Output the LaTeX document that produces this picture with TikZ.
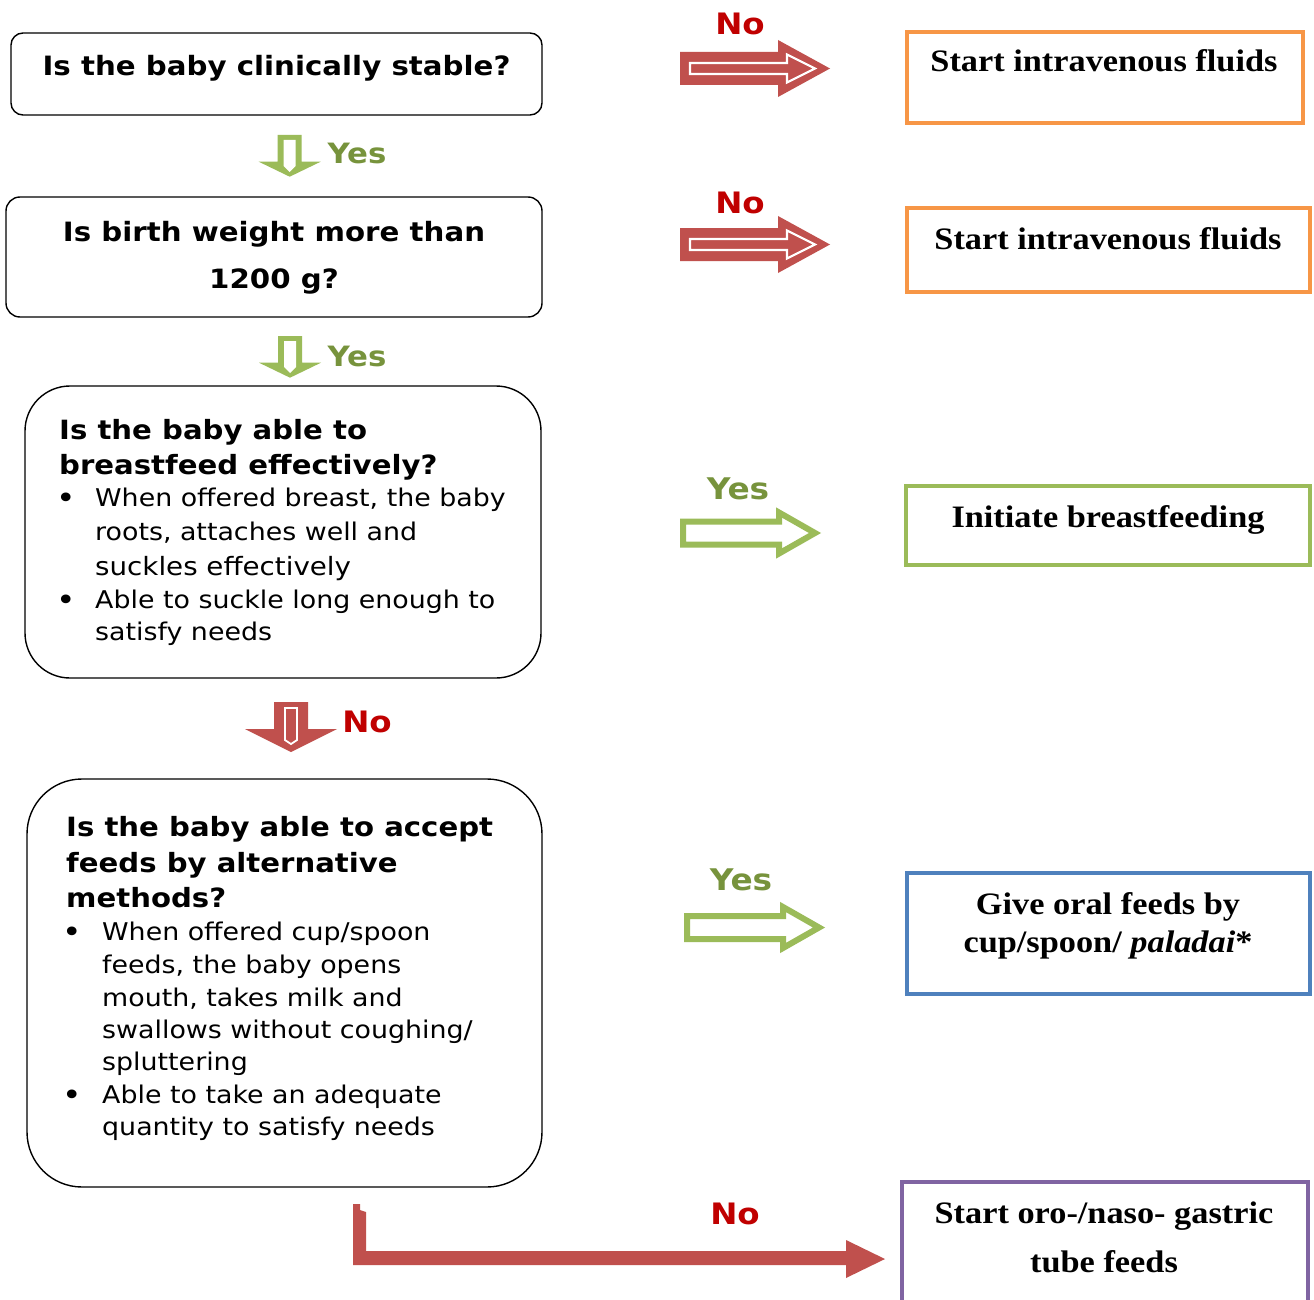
\documentclass[tikz,border=0pt]{standalone}
\usepackage{fontspec}
\setmainfont{DejaVu Sans}[FakeStretch=1.1]
\newfontfamily\cambria{Liberation Serif}[FakeStretch=1.1]
\definecolor{redA}{HTML}{C0504D}
\definecolor{redT}{HTML}{C00000}
\definecolor{grnA}{HTML}{9BBB59}
\definecolor{grnT}{HTML}{77933C}
\definecolor{orgB}{HTML}{F79646}
\definecolor{bluB}{HTML}{4F81BD}
\definecolor{purB}{HTML}{8064A2}
\tikzset{
  redright/.pic={
    \fill[redA] (0,-16.5)--(98,-16.5)--(98,-28.5)--(150,0)--(98,28.5)--(98,16.5)--(0,16.5)--cycle;
    \draw[white,line width=2.2pt,miter limit=4] (10,-5.5)--(107,-5.5)--(107,-14)--(135,0)--(107,14)--(107,5.5)--(10,5.5)--cycle;
  },
  greenright/.pic={
    \draw[grnA,fill=white,line width=6pt] (3,-11.5)--(99,-11.5)--(99,-20.5)--(135,0)--(99,20.5)--(99,11.5)--(3,11.5)--cycle;
  },
  greendown/.pic={
    \fill[grnA] (-12,0)--(12,0)--(12,26.7)--(31,26.7)--(0,41.7)--(-31,26.7)--(-12,26.7)--cycle;
    \fill[white] (-6,5)--(6,5)--(6,31)--(0,37)--(-6,31)--cycle;
  },
  reddown/.pic={
    \fill[redA] (-17,0)--(17,0)--(17,27)--(46,27)--(0,50)--(-46,27)--(-17,27)--cycle;
    \draw[white,line width=1.8pt] (-6,6)--(6,6)--(6,38)--(0,42)--(-6,38)--cycle;
  }
}
\begin{document}
\begin{tikzpicture}[x=1pt,y=-1pt,
  qbox/.style={draw=black,line width=1.4pt,inner sep=0pt,outer sep=0pt},
  abox/.style={line width=4.5pt,inner sep=0pt,outer sep=0pt,fill=white},
  hd/.style={anchor=base west,inner sep=0pt,font=\fontsize{26.5}{30}\selectfont\bfseries},
  bd/.style={anchor=base west,inner sep=0pt,font=\fontsize{24.4}{28}\selectfont},
  bul/.style={anchor=base,inner sep=0pt,font=\fontsize{30}{32}\selectfont},
  ctr/.style={anchor=base,inner sep=0pt,font=\fontsize{26.6}{30}\selectfont\bfseries},
  rt/.style={anchor=base,inner sep=0pt,font=\cambria\fontsize{31.2}{36}\selectfont\bfseries},
  yes/.style={anchor=base,inner sep=0pt,text=grnT,font=\fontsize{28}{32}\selectfont\bfseries},
  yesb/.style={anchor=base,inner sep=0pt,text=grnT,font=\fontsize{29.8}{34}\selectfont\bfseries},
  no/.style={anchor=base,inner sep=0pt,text=redT,font=\fontsize{29.5}{34}\selectfont\bfseries}
]
\useasboundingbox (0,0) rectangle (1314,1300);
\fill[white] (0,0) rectangle (1314,1300);

% left question boxes
\node[qbox,rounded corners=12pt,minimum width=531pt,minimum height=82pt] (q1) at (276.5,74) {};
\node[ctr] (q1t) at (276.5,76) {Is the baby clinically stable?};

\node[qbox,rounded corners=14pt,minimum width=536pt,minimum height=120pt] (q2) at (274,257) {};
\node[ctr] (q2a) at (274,241) {Is birth weight more than};
\node[ctr] (q2b) at (274,288) {1200 g?};

\node[qbox,rounded corners=45pt,minimum width=516pt,minimum height=292pt] (q3) at (283,532) {};
\node[hd] (q3a) at (59,439) {Is the baby able to};
\node[hd] (q3b) at (59,474) {breastfeed effectively?};
\node[bul] (q3u1) at (66,508) {\textbullet};
\node[bd] (q3c) at (95,506) {When offered breast, the baby};
\node[bd] (q3d) at (95,540) {roots, attaches well and};
\node[bd,font=\fontsize{25.2}{28}\selectfont] (q3e) at (95,575) {suckles effectively};
\node[bul] (q3u2) at (66,610) {\textbullet};
\node[bd] (q3f) at (95,608) {Able to suckle long enough to};
\node[bd] (q3g) at (95,640) {satisfy needs};

\node[qbox,rounded corners=55pt,minimum width=515pt,minimum height=408pt] (q4) at (284.5,983) {};
\node[hd] (q4a) at (66,836) {Is the baby able to accept};
\node[hd] (q4b) at (66,872) {feeds by alternative};
\node[hd] (q4c) at (66,907) {methods?};
\node[bul] (q4u1) at (72,942) {\textbullet};
\node[bd] (q4d) at (102,940) {When offered cup/spoon};
\node[bd] (q4e) at (102,973) {feeds, the baby opens};
\node[bd] (q4f) at (102,1006) {mouth, takes milk and};
\node[bd] (q4g) at (102,1038) {swallows without coughing/};
\node[bd] (q4h) at (102,1070) {spluttering};
\node[bul] (q4u2) at (72,1105) {\textbullet};
\node[bd] (q4i) at (102,1103) {Able to take an adequate};
\node[bd] (q4j) at (102,1135) {quantity to satisfy needs};

% right action boxes
\node[abox,draw=orgB,minimum width=396pt,minimum height=91pt] (r1) at (1105,77.5) {};
\node[rt] (r1t) at (1104,72) {Start intravenous fluids};
\node[abox,draw=orgB,minimum width=403pt,minimum height=84pt] (r2) at (1108.5,250) {};
\node[rt] (r2t) at (1108,249) {Start intravenous fluids};
\node[abox,draw=grnA,minimum width=404pt,minimum height=79pt] (r3) at (1108,525.5) {};
\node[rt] (r3t) at (1108,527) {Initiate breastfeeding};
\node[abox,draw=bluB,minimum width=403pt,minimum height=121pt] (r4) at (1108.5,933.5) {};
\node[rt] (r4a) at (1108,914) {Give oral feeds by};
\node[rt] (r4b) at (1108,952) {cup/spoon/ \textit{paladai}*};
\node[abox,draw=purB,minimum width=406pt,minimum height=126pt] (r5) at (1105,1245) {};
\node[rt] (r5a) at (1104,1223) {Start oro-/naso- gastric};
\node[rt] (r5b) at (1104,1272) {tube feeds};

% vertical arrows and labels
\pic at (289.7,135) {greendown};
\node[yes] (y1) at (357,164) {Yes};
\pic at (290,336) {greendown};
\node[yes] (y2) at (357,366) {Yes};
\pic at (291,702) {reddown};
\node[no] (n3) at (367,732) {No};

% horizontal arrows and labels
\pic at (680,68.5) {redright};
\node[no] (n1) at (740,35) {No};
\pic at (680,244.5) {redright};
\node[no] (n2) at (740,214) {No};
\pic at (680,533) {greenright};
\node[yesb] (y3) at (738,499) {Yes};
\pic at (684,927.5) {greenright};
\node[yesb] (y4) at (741,890) {Yes};

% bottom L-shaped arrow
\coordinate (Ls) at (359,1204);
\coordinate (Le) at (885,1259);
\fill[redA] (353,1204)--(360,1204)--(360,1210)--(366,1212)--(366,1251)--(846,1251)--(846,1240)--(Le)--(846,1278)--(846,1265)--(353,1265)--cycle;
\node[no] (n4) at (735,1224) {No};
\end{tikzpicture}
\end{document}
